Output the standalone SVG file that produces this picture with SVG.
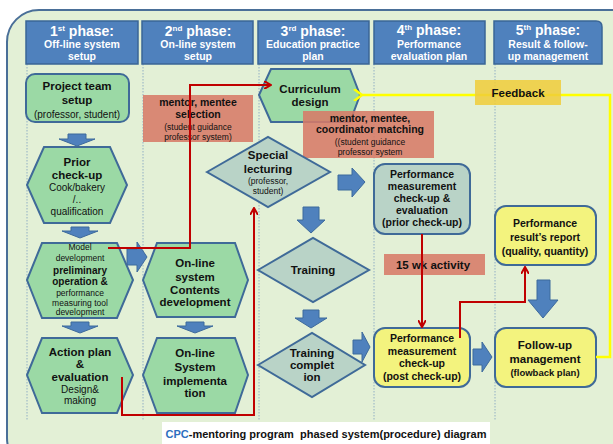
<svg xmlns="http://www.w3.org/2000/svg" width="613" height="444" viewBox="0 0 613 444">
<style>
text{font-family:"Liberation Sans",Arial,sans-serif;text-anchor:middle;fill:#111}
.b{font-weight:bold}
.h{fill:#fff;font-weight:bold}
.hd{fill:#4f81bd;stroke:#3a6596;stroke-width:1.5}
.g{fill:#9bd9a5;stroke:#3f6a98;stroke-width:2}
.t{fill:#b9d3c7;stroke:#3f6a98;stroke-width:2}
.y{fill:#f3f37e;stroke:#3f6a98;stroke-width:2}
.p{fill:#d77a68;fill-opacity:0.88}
.ba{fill:#4f81bd;stroke:#3d6a9c;stroke-width:1}
.dl{stroke:#7f9fc0;stroke-width:0.8;stroke-dasharray:1.5 1.5;fill:none}
.red{fill:none;stroke:#c00000;stroke-width:2}
.yel{fill:none;stroke:#ffff00;stroke-width:2.5}
</style>
<defs>
<marker id="ar" markerWidth="8" markerHeight="8" refX="6" refY="4" orient="auto" markerUnits="userSpaceOnUse"><path d="M0,0 L7,4 L0,8" fill="none" stroke="#c00000" stroke-width="2"/></marker>
<marker id="ay" markerWidth="10" markerHeight="12" refX="1" refY="6" orient="auto" markerUnits="userSpaceOnUse"><path d="M9,0 L1,6 L9,12" fill="none" stroke="#ffff00" stroke-width="2.5"/></marker>
</defs>
<rect width="613" height="444" fill="#fff"/>
<rect x="7" y="10" width="640" height="460" rx="32" fill="#e3f0d6" stroke="#4a6f98" stroke-width="2"/>
<g id="dividers">
<line class="dl" x1="27" y1="64" x2="27" y2="420"/>
<line class="dl" x1="143" y1="64" x2="143" y2="420"/>
<line class="dl" x1="259" y1="64" x2="259" y2="420"/>
<line class="dl" x1="374" y1="64" x2="374" y2="420"/>
<line class="dl" x1="495" y1="64" x2="495" y2="420"/>
</g>
<g id="headers">
<g id="h1"><rect class="hd" x="26" y="21" width="112" height="43"/>
<text x="82" y="36" class="h" font-size="14">1<tspan font-size="8" dy="-5">st</tspan><tspan dy="5"> phase:</tspan></text>
<text x="82" y="48" class="h" font-size="10.5">Off-line system</text><text x="82" y="60" class="h" font-size="10.5">setup</text></g>
<g id="h2"><rect class="hd" x="142" y="21" width="111" height="43"/>
<text x="198" y="36" class="h" font-size="14">2<tspan font-size="8" dy="-5">nd</tspan><tspan dy="5"> phase:</tspan></text>
<text x="198" y="48" class="h" font-size="10.5">On-line system</text><text x="198" y="60" class="h" font-size="10.5">setup</text></g>
<g id="h3"><rect class="hd" x="258" y="21" width="111" height="43"/>
<text x="313" y="36" class="h" font-size="14">3<tspan font-size="8" dy="-5">rd</tspan><tspan dy="5"> phase:</tspan></text>
<text x="313" y="48" class="h" font-size="10.5">Education practice</text><text x="313" y="60" class="h" font-size="10.5">plan</text></g>
<g id="h4"><rect class="hd" x="374" y="21" width="111" height="43"/>
<text x="429" y="35" class="h" font-size="14">4<tspan font-size="8" dy="-5">th</tspan><tspan dy="5"> phase:</tspan></text>
<text x="429" y="48" class="h" font-size="10.5">Performance</text><text x="429" y="60" class="h" font-size="10.5">evaluation plan</text></g>
<g id="h5"><path class="hd" d="M494,21 H596 Q602,21 602,27 V64 H494 Z"/>
<text x="548" y="35" class="h" font-size="14">5<tspan font-size="8" dy="-5">th</tspan><tspan dy="5"> phase:</tspan></text>
<text x="548" y="48" class="h" font-size="10.5">Result &amp; follow-</text><text x="548" y="60" class="h" font-size="10.5">up management</text></g>
</g>
<g id="block-arrows">
<path class="ba" d="M68,134 H86 V139 H95 L77,146 L59,139 H68 Z"/>
<path class="ba" d="M71,227 H89 V231 H98 L80,238 L62,231 H71 Z"/>
<path class="ba" d="M71,322 H89 V326 H98 L80,333 L62,326 H71 Z"/>
<path class="ba" d="M186,322 H204 V326 H213 L195,333 L177,326 H186 Z"/>
<path class="ba" d="M127,249 H137 V242 L147,257 L137,272 V265 H127 Z"/>
<path class="ba" d="M338,175 H352 V168 L365,182 L352,197 V190 H338 Z"/>
<path class="ba" d="M303,207 H319 V220 H325 L311,233 L297,220 H303 Z"/>
<path class="ba" d="M303,310 H319 V318 H327 L311,328 L295,318 H303 Z"/>
<path class="ba" d="M353,340 H362 V332 L370,347 L362,362 V354 H353 Z"/>
<path class="ba" d="M473,349 H482 V342 L492,357 L482,372 V365 H473 Z"/>
<path class="ba" d="M537,280 H550 V300 H558 L543,318 L528,300 H537 Z"/>
</g>
<g id="n-project"><rect class="g" x="26" y="74" width="103" height="48" rx="9"/>
<text x="77" y="90" class="b" font-size="11.5">Project team</text><text x="77" y="104" class="b" font-size="11.5">setup</text><text x="77" y="118" font-size="10">(professor, student)</text></g>
<g id="n-prior"><polygon class="g" points="27,185 44,147 110,147 127,185 110,223 44,223"/>
<text x="77" y="166" class="b" font-size="11.5">Prior</text><text x="77" y="179" class="b" font-size="11.5">check-up</text><text x="77" y="191" font-size="10">Cook/bakery</text><text x="77" y="203" font-size="10">/..</text><text x="77" y="215" font-size="10">qualification</text></g>
<g id="n-model"><polygon class="g" points="27,280 42,243 117,243 133,280 117,318 42,318"/>
<text x="80" y="250" font-size="8.5">Model</text><text x="80" y="261" font-size="8.5">development</text><text x="80" y="274" class="b" font-size="10">preliminary</text><text x="80" y="285" class="b" font-size="10">operation &amp;</text><text x="80" y="296" font-size="8.5">performance</text><text x="80" y="306" font-size="8.5">measuring tool</text><text x="80" y="315" font-size="8.5">development</text></g>
<g id="n-action"><polygon class="g" points="27,375 42,338 117,338 133,375 117,413 42,413"/>
<text x="80" y="356" class="b" font-size="11.5">Action plan</text><text x="80" y="368" class="b" font-size="11.5">&amp;</text><text x="80" y="381" class="b" font-size="11.5">evaluation</text><text x="80" y="393" font-size="10">Design&amp;</text><text x="80" y="404" font-size="10">making</text></g>
<g id="n-contents"><polygon class="g" points="143,280 157,243 235,243 248,280 235,317 157,317"/>
<text x="195" y="267" class="b" font-size="11.5">On-line</text><text x="195" y="281" class="b" font-size="11.5">system</text><text x="195" y="294" class="b" font-size="11.5">Contents</text><text x="195" y="306" class="b" font-size="11.5">development</text></g>
<g id="n-impl"><polygon class="g" points="143,375 157,338 235,338 248,375 235,413 157,413"/>
<text x="195" y="357" class="b" font-size="11.5">On-line</text><text x="195" y="371" class="b" font-size="11.5">System</text><text x="195" y="385" class="b" font-size="11.5">implementa</text><text x="195" y="397" class="b" font-size="11.5">tion</text></g>
<g id="n-curriculum"><polygon class="g" points="259,95 271,69 350,69 360,95 350,122 271,122"/>
<text x="310" y="93" class="b" font-size="11.5">Curriculum</text><text x="310" y="106" class="b" font-size="11.5">design</text></g>
<g id="n-selection"><rect class="p" x="143" y="95" width="110" height="47"/>
<text x="198" y="106" class="b" font-size="10.5">mentor, mentee</text><text x="198" y="118" class="b" font-size="10.5">selection</text><text x="198" y="130" font-size="8.5">(student guidance</text><text x="198" y="140" font-size="8.5">professor system)</text></g>
<g id="n-matching"><rect class="p" x="303" y="111" width="131" height="47"/>
<text x="370" y="122" class="b" font-size="10.5">mentor, mentee,</text><text x="370" y="133" class="b" font-size="10.5">coordinator matching</text><text x="370" y="145" font-size="8.5">((student guidance</text><text x="370" y="155" font-size="8.5">professor system</text></g>
<g id="n-special"><polygon class="t" points="207,172 268,137 330,172 268,207"/>
<text x="268" y="159" class="b" font-size="11.5">Special</text><text x="268" y="173" class="b" font-size="11.5">lecturing</text><text x="268" y="184" font-size="8.5">(professor,</text><text x="268" y="194" font-size="8.5">student)</text></g>
<g id="n-training"><polygon class="t" points="258,270 313,238 369,270 313,302"/>
<text x="313" y="274" class="b" font-size="11.5">Training</text></g>
<g id="n-completion"><polygon class="t" points="258,365 312,333 365,365 312,397"/>
<text x="312" y="357" class="b" font-size="11.5">Training</text><text x="312" y="369" class="b" font-size="11.5">complet</text><text x="312" y="381" class="b" font-size="11.5">ion</text></g>
<g id="n-priorcheck"><rect class="t" x="374" y="164" width="96" height="70" rx="11"/>
<text x="422" y="178" class="b" font-size="10.5">Performance</text><text x="422" y="190" class="b" font-size="10.5">measurement</text><text x="422" y="202" class="b" font-size="10.5">check-up &amp;</text><text x="422" y="214" class="b" font-size="10.5">evaluation</text><text x="422" y="226" class="b" font-size="10.5">(prior check-up)</text></g>
<g id="n-15wk"><rect class="p" x="384" y="254" width="101" height="21"/>
<text x="433" y="269" class="b" font-size="11.5">15 wk activity</text></g>
<g id="n-postcheck"><rect class="y" x="374" y="328" width="96" height="59" rx="11"/>
<text x="422" y="342" class="b" font-size="10.5">Performance</text><text x="422" y="355" class="b" font-size="10.5">measurement</text><text x="422" y="367" class="b" font-size="10.5">check-up</text><text x="422" y="380" class="b" font-size="10.5">(post check-up)</text></g>
<g id="n-report"><rect class="y" x="495" y="206" width="101" height="59" rx="11"/>
<text x="545" y="227" class="b" font-size="10.5">Performance</text><text x="545" y="241" class="b" font-size="10.5">result’s report</text><text x="545" y="255" class="b" font-size="10.5">(quality, quantity)</text></g>
<g id="n-followup"><rect class="y" x="495" y="328" width="101" height="59" rx="11"/>
<text x="545" y="349" class="b" font-size="11.5">Follow-up</text><text x="545" y="363" class="b" font-size="11.5">management</text><text x="545" y="376" class="b" font-size="9.5">(flowback plan)</text></g>
<g id="connectors">
<polyline class="red" points="108,248 190,248 190,85 270,85" marker-end="url(#ar)"/>
<polyline class="red" points="122,377 122,415 254,415 254,209" marker-end="url(#ar)"/>
<polyline class="red" points="422,234 422,326" marker-end="url(#ar)"/>
<polyline class="red" points="460,338 460,302 525,302 525,268" marker-end="url(#ar)"/>
<polyline class="yel" points="596,357 610,357 610,95 362,95" marker-end="url(#ay)"/>
</g>
<g id="n-feedback"><rect x="475" y="80" width="86" height="25" fill="#f0cc3a" fill-opacity="0.85"/>
<text x="518" y="97" class="b" font-size="11.5">Feedback</text></g>
<g id="caption"><rect x="162" y="422" width="328" height="22" fill="#fff"/>
<text x="326" y="438" font-size="11" class="b" xml:space="preserve"><tspan fill="#2e6fc0">CPC</tspan>-mentoring program  phased system(procedure) diagram</text></g>
</svg>
